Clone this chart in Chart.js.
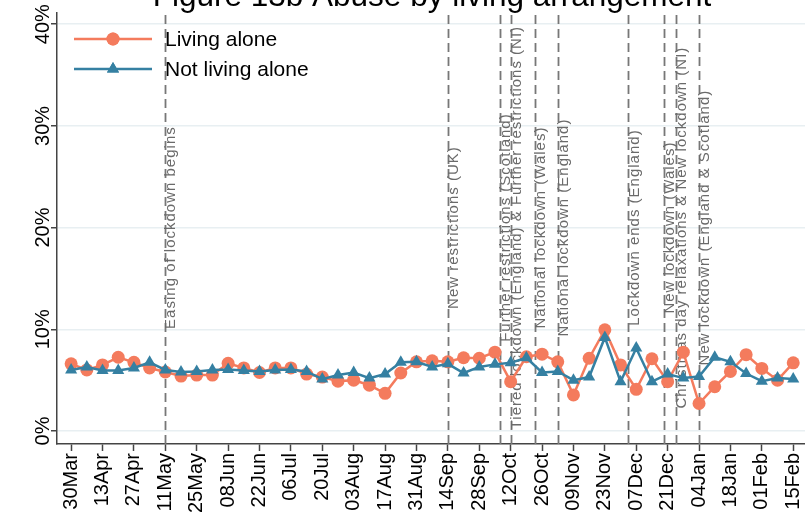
<!DOCTYPE html>
<html>
<head>
<meta charset="utf-8">
<script src="https://cdn.jsdelivr.net/npm/chart.js@4"></script>
<style>
  html, body { margin: 0; padding: 0; background: #fff; }
  #wrap { width: 805px; height: 520px; position: relative; }
</style>
</head>
<body>
<div id="wrap"><canvas id="chart"></canvas></div>
<script>
// Weekly share (%) reporting abuse, week 0 = 30Mar ... week 46 = 15Feb
let livingAlone = [6.6, 6.0, 6.5, 7.25, 6.75, 6.2, 5.8, 5.4, 5.5, 5.5, 6.65, 6.2, 5.75, 6.2, 6.2, 5.6,
    5.3, 4.9, 5.0, 4.5, 3.7, 5.7, 6.8, 6.9, 6.8, 7.2, 7.15, 7.75, 4.85, 7.3, 7.55, 6.8,
    3.55, 7.15, 9.95, 6.5, 4.1, 7.1, 4.85, 7.75, 2.7, 4.35, 5.85, 7.5, 6.15, 5.0, 6.7];
let notLivingAlone = [6.0, 6.3, 5.95, 5.95, 6.2, 6.75, 6.0, 5.8, 5.85, 6.0, 6.05, 5.95, 5.85, 6.0, 6.05, 5.85,
    5.1, 5.5, 5.75, 5.2, 5.6, 6.75, 6.8, 6.3, 6.6, 5.7, 6.3, 6.55, 6.7, 7.2, 5.75, 5.85,
    5.0, 5.3, 9.2, 4.85, 8.15, 4.85, 5.6, 5.2, 5.35, 7.25, 6.8, 5.65, 4.9, 5.2, 5.1];

// x tick labels, one every 2 weeks
let tickLabels = ["30Mar", "13Apr", "27Apr", "11May", "25May", "08Jun", "22Jun", "06Jul",
    "20Jul", "03Aug", "17Aug", "31Aug", "14Sep", "28Sep", "12Oct", "26Oct", "09Nov",
    "23Nov", "07Dec", "21Dec", "04Jan", "18Jan", "01Feb", "15Feb"];
let yTicks = [0, 10, 20, 30, 40];

// policy events (week index from 30Mar)
let eventWeeks = [6, 24, 27.3, 28, 29.55, 31, 35.5, 37.75, 38.55, 40];
let eventLabels = [
    "Easing of lockdown begins",
    "New restrictions (UK)",
    "Further restrictions (Scotland)",
    "Tiered lockdown (England) & Further restrictions (NI)",
    "National lockdown (Wales)",
    "National lockdown (England)",
    "Lockdown ends (England)",
    "New lockdown (Wales)",
    "Christmas day relaxations & New lockdown (NI)",
    "New lockdown (England & Scotland)"
];

const FONT = '"Liberation Sans", Arial, sans-serif';
const ORANGE = "#F47B5D";
const BLUE = "#3580A2";

function toPoints(arr) {
    return arr.map((v, i) => ({ x: i, y: v }));
}

const overlay = {
    id: "overlay",
    beforeDatasetsDraw(chart) {
        const ctx = chart.ctx;
        const area = chart.chartArea;
        const x = chart.scales.x, y = chart.scales.y;
        ctx.save();
        // dashed event lines
        ctx.strokeStyle = "#777";
        ctx.lineWidth = 1.8;
        ctx.setLineDash([9, 5]);
        eventWeeks.forEach(w => {
            let px = Math.round(x.getPixelForValue(w)) + 0.5;
            ctx.beginPath();
            ctx.moveTo(px, area.bottom);
            ctx.lineTo(px, area.top);
            ctx.stroke();
        });
        ctx.setLineDash([]);
        // event labels
        ctx.fillStyle = "#6a6a6a";
        ctx.font = "15px " + FONT;
        ctx.letterSpacing = "1px";
        ctx.textAlign = "center";
        ctx.textBaseline = "middle";
        eventWeeks.forEach((w, i) => {
            ctx.save();
            ctx.translate(x.getPixelForValue(w) + 6, y.getPixelForValue(20));
            ctx.rotate(-Math.PI / 2);
            ctx.fillText(eventLabels[i], 0, 0);
            ctx.restore();
        });
        ctx.restore();
    },
    afterDraw(chart) {
        const ctx = chart.ctx;
        const y = chart.scales.y;
        ctx.save();
        // rotated y tick labels
        ctx.fillStyle = "#000";
        ctx.font = "20px " + FONT;
        ctx.textAlign = "center";
        ctx.textBaseline = "alphabetic";
        yTicks.forEach(t => {
            ctx.save();
            ctx.translate(49, y.getPixelForValue(t));
            ctx.rotate(-Math.PI / 2);
            ctx.fillText(t + "%", 0, 0);
            ctx.restore();
        });

        // legend
        const items = [
            { label: "Living alone", color: ORANGE, style: "circle", r: 6.5 },
            { label: "Not living alone", color: BLUE, style: "triangle", r: 7 }
        ];
        items.forEach((it, i) => {
            let ly = 39 + i * 30;
            ctx.strokeStyle = it.color;
            ctx.lineWidth = 2.5;
            ctx.beginPath();
            ctx.moveTo(74, ly);
            ctx.lineTo(152, ly);
            ctx.stroke();
            ctx.fillStyle = it.color;
            Chart.helpers.drawPoint(ctx, { pointStyle: it.style, radius: it.r, rotation: 0, borderWidth: 0 }, 113, ly);
            ctx.fill();
            ctx.fillStyle = "#000";
            ctx.font = "21px " + FONT;
            ctx.textAlign = "left";
            ctx.textBaseline = "middle";
            ctx.fillText(it.label, 165, ly + 1);
        });

        // title (cut off at the top of the image)
        ctx.fillStyle = "#000";
        ctx.font = "31.5px " + FONT;
        ctx.textAlign = "center";
        ctx.textBaseline = "alphabetic";
        ctx.fillText("Figure 13b Abuse by living arrangement", 432, 6);
        ctx.restore();
    }
};

function initChart() {
    const ctx = document.getElementById("chart").getContext("2d");
    new Chart(ctx, {
        type: "line",
        data: {
            datasets: [{
                label: "Living alone",
                data: toPoints(livingAlone),
                borderColor: ORANGE,
                backgroundColor: ORANGE,
                borderWidth: 2.5,
                pointStyle: "circle",
                pointRadius: 6.5,
                pointBorderWidth: 0,
                order: 1
            }, {
                label: "Not living alone",
                data: toPoints(notLivingAlone),
                borderColor: BLUE,
                backgroundColor: BLUE,
                borderWidth: 2.5,
                pointStyle: "triangle",
                pointRadius: 7,
                pointBorderWidth: 0,
                order: 0
            }]
        },
        options: {
            responsive: true,
            maintainAspectRatio: false,
            animation: false,
            layout: { autoPadding: false, padding: { top: 13, right: 0, left: 0, bottom: 0 } },
            plugins: {
                legend: { display: false },
                tooltip: { enabled: false }
            },
            scales: {
                x: {
                    type: "linear",
                    min: -0.9,
                    max: 46.75,
                    afterBuildTicks(scale) {
                        scale.ticks = tickLabels.map((_, i) => ({ value: i * 2 }));
                    },
                    afterFit(scale) {
                        scale.height = 76;
                        scale.paddingLeft = 0;
                        scale.paddingRight = 0;
                    },
                    ticks: {
                        autoSkip: false,
                        maxRotation: 90,
                        minRotation: 90,
                        padding: 2,
                        color: "#000",
                        font: { size: 20, family: FONT },
                        callback: v => tickLabels[v / 2]
                    },
                    grid: {
                        drawOnChartArea: false,
                        drawTicks: true,
                        tickLength: 7,
                        tickColor: "#444",
                        tickWidth: 1.5
                    },
                    border: { color: "#444", width: 1.5 }
                },
                y: {
                    min: -1.28,
                    max: 41.1,
                    afterBuildTicks(scale) {
                        scale.ticks = yTicks.map(v => ({ value: v }));
                    },
                    afterFit(scale) {
                        scale.width = 57;
                    },
                    ticks: { display: false },
                    grid: {
                        color: "#e8eff2",
                        lineWidth: 1.5,
                        drawTicks: true,
                        tickLength: 6,
                        tickColor: "#444",
                        tickWidth: 1.5
                    },
                    border: { color: "#444", width: 1.5 }
                }
            }
        },
        plugins: [overlay]
    });
}

window.onload = initChart;
</script>
</body>
</html>
